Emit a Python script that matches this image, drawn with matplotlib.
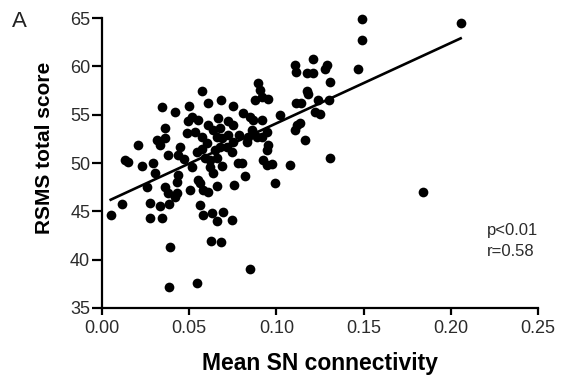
import matplotlib
matplotlib.use("Agg")
import matplotlib.pyplot as plt
import numpy as np

plt.rcParams["font.family"] = ["Liberation Sans", "DejaVu Sans"]

# mean SN connectivity vs RSMS total score
sn_connectivity = np.array([
    0.005, 0.0116, 0.0132, 0.0151, 0.0208, 0.0228, 0.0256, 0.0275, 0.0275, 0.0294,
    0.0304, 0.0314, 0.0333, 0.0361, 0.0333, 0.0346, 0.0384, 0.0392, 0.0384, 0.0545,
    0.0625, 0.0681, 0.0849, 0.0361, 0.038, 0.0419, 0.0428, 0.0437, 0.0505, 0.0562,
    0.0581, 0.0629, 0.0658, 0.0696, 0.0744, 0.0552, 0.0581, 0.061, 0.0562, 0.0658,
    0.038, 0.0437, 0.047, 0.0516, 0.0447, 0.0543, 0.0572, 0.06, 0.0648, 0.0677,
    0.0744, 0.0591, 0.0619, 0.0658, 0.0619, 0.0638, 0.0686, 0.0782, 0.0801, 0.082,
    0.0755, 0.0925, 0.0944, 0.0973, 0.1078, 0.0992, 0.0954, 0.0944, 0.1164, 0.1107,
    0.1307, 0.0785, 0.083, 0.0839, 0.0887, 0.0944, 0.0916, 0.0868, 0.0715, 0.0572,
    0.0658, 0.0686, 0.0724, 0.0753, 0.0486, 0.0533, 0.0361, 0.0514, 0.0552, 0.0495,
    0.061, 0.0667, 0.0677, 0.0724, 0.0753, 0.0638, 0.0572, 0.0346, 0.0419, 0.0499,
    0.061, 0.068, 0.0753, 0.081, 0.0849, 0.0868, 0.0916, 0.1021, 0.0896, 0.0906,
    0.0916, 0.0877, 0.0954, 0.0858, 0.1107, 0.1112, 0.1174, 0.1212, 0.1212, 0.1279,
    0.129, 0.1307, 0.1174, 0.1183, 0.111, 0.1141, 0.124, 0.1302, 0.1221, 0.125,
    0.1116, 0.1135, 0.1493, 0.1489, 0.1466, 0.2057, 0.1839, 0.0428,
])
rsms_score = np.array([
    44.6, 45.8, 50.3, 50.1, 51.9, 49.7, 47.55, 45.85, 44.3, 50.0,
    48.95, 52.4, 51.85, 52.55, 45.55, 44.3, 45.75, 41.35, 37.2, 37.6,
    41.95, 41.85, 39.05, 47.55, 46.85, 46.5, 48.05, 48.75, 47.2, 45.65,
    44.6, 44.8, 44.05, 44.95, 44.1, 48.25, 47.2, 47.05, 47.9, 47.6,
    50.85, 50.85, 50.45, 49.6, 51.7, 51.15, 51.5, 52.05, 51.35, 51.7,
    51.15, 50.5, 50.3, 50.5, 49.6, 48.95, 49.7, 49.95, 50.05, 48.65,
    47.7, 50.3, 49.8, 49.9, 49.8, 47.9, 51.85, 51.35, 52.4, 53.4,
    50.5, 52.9, 52.2, 52.7, 52.7, 53.25, 52.7, 53.1, 51.7, 52.7,
    52.7, 52.55, 52.9, 52.2, 53.1, 53.25, 53.6, 54.8, 54.45, 54.3,
    53.95, 54.65, 53.6, 54.3, 53.95, 53.4, 57.4, 55.75, 55.3, 55.9,
    56.2, 56.5, 55.9, 55.15, 54.8, 54.45, 54.45, 54.95, 58.25, 57.55,
    56.85, 56.5, 56.6, 53.4, 60.15, 59.45, 59.3, 59.3, 60.75, 59.7,
    60.15, 58.4, 57.5, 57.15, 56.2, 56.25, 56.5, 56.5, 55.3, 55.05,
    53.95, 54.1, 64.85, 62.7, 59.75, 64.45, 47.0, 46.85,
])

# regression line end points
fit_x = [0.005, 0.2057]
fit_y = [46.2, 62.9]

x_ticks = [0.00, 0.05, 0.10, 0.15, 0.20, 0.25]
y_ticks = [35, 40, 45, 50, 55, 60, 65]

fig = plt.figure(figsize=(5.61, 3.84), dpi=100)
ax = fig.add_axes([0.1818, 0.198, 0.777, 0.755])

ax.plot(sn_connectivity, rsms_score, "o", color="black", markersize=7.0,
        markeredgewidth=0, clip_on=False, zorder=3)
ax.plot(fit_x, fit_y, color="black", linewidth=1.9, zorder=2)

ax.set_xlim(0, 0.25)
ax.set_ylim(35, 65)
ax.set_xticks(x_ticks)
ax.set_xticklabels([f"{v:.2f}" for v in x_ticks])
ax.set_yticks(y_ticks)

for side in ["top", "right"]:
    ax.spines[side].set_visible(False)
for side in ["left", "bottom"]:
    ax.spines[side].set_linewidth(1.6)

ax.tick_params(axis="x", direction="out", length=5, width=1.6, pad=4,
               labelsize=13, labelcolor="#2b2b2b")
ax.tick_params(axis="y", direction="out", length=7, width=1.6, pad=1.5,
               labelsize=13, labelcolor="#2b2b2b")

ax.set_xlabel("Mean SN connectivity", fontsize=16.5, fontweight="bold")
ax.set_ylabel("RSMS total score", fontsize=15, fontweight="bold")
ax.xaxis.set_label_coords(0.5, -0.19)
ax.xaxis.label.set_va("center")
ax.yaxis.set_label_coords(-0.131, 0.552)
ax.yaxis.label.set_va("center")

ax.text(0.2208, 42.56, "p<0.01", fontsize=12, color="#2b2b2b", va="baseline")
ax.text(0.2208, 40.4, "r=0.58", fontsize=12, color="#2b2b2b", va="baseline")

fig.text(0.021, 0.93, "A", fontsize=16, color="#222222", va="baseline")

fig.savefig("out.png", dpi=100)
